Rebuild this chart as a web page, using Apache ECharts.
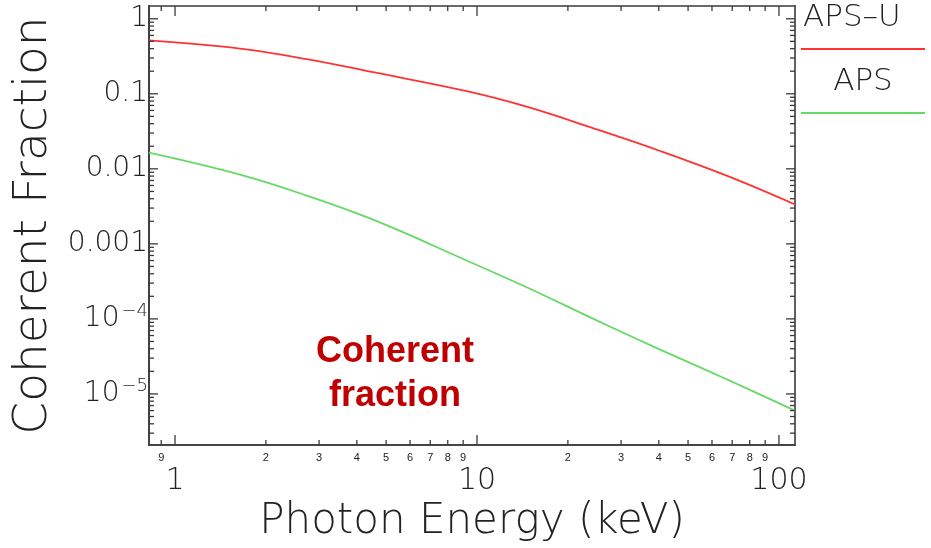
<!DOCTYPE html>
<html lang="en">
<head>
    <meta charset="UTF-8">
    <title>Coherent Fraction</title>
    <script src="https://cdn.jsdelivr.net/npm/echarts@6/dist/echarts.min.js"></script>
</head>
<body style="margin:0;background:#fff">
    <div id="main" style="width:931px;height:548px;"></div>
    <script>
        // photon energy (keV)
        let energy = [0.82, 1.64, 2.73, 4.53, 9.48, 14.6, 24.2, 40.4, 67.1, 113];
        // coherent fraction for each ring
        let apsU = [0.514, 0.400, 0.290, 0.194, 0.106, 0.0673, 0.0349, 0.0173, 0.0081, 0.00335];
        let aps = [0.0164, 0.00836, 0.0044, 0.0021, 0.000574, 0.000264, 0.000101, 0.000039, 0.0000157, 0.0000060];

        // tick positions
        let xMajor = [1, 10, 100];
        let xMinor = [0.9, 2, 3, 4, 5, 6, 7, 8, 9, 20, 30, 40, 50, 60, 70, 80, 90];
        let yMajor = [1e-5, 1e-4, 1e-3, 1e-2, 1e-1, 1];
        let yDecades = [1e-6, 1e-5, 1e-4, 1e-3, 1e-2, 1e-1];
        let yMinor = [];
        yDecades.forEach(function (d) {
            for (let m = 2; m <= 9; m++) yMinor.push(+(m * d).toPrecision(3));
        });

        let xMin = 0.82, xMax = 113;
        let yMin = 2.08e-6, yMax = 1.48;

        let font = 'DejaVu Sans';
        let axisColor = '#3a3a3a';

        function leadDigit(v) {
            let p = Math.pow(10, Math.floor(Math.log10(v) + 1e-9));
            return String(Math.round(v / p));
        }
        function yMajorLabel(v) {
            let e = Math.round(Math.log10(v));
            if (e >= -3) return ['1', '0.1', '0.01', '0.001'][-e];
            return '10{s|\u2212' + (-e) + '}';
        }

        function logAx(pos, min, max, label) {
            return {
                type: 'log', position: pos, min: min, max: max,
                axisLine: { show: true, onZero: false, lineStyle: { color: axisColor, width: 1.6 } },
                axisTick: { show: false },
                axisLabel: label || { show: false }, splitLine: { show: false }
            };
        }

        // tick marks drawn on all four sides through the log scales
        let xTickVals = xMinor.concat(xMajor);
        let xTickLen = xMinor.map(function () { return 5; }).concat(xMajor.map(function () { return 10; }));
        let yMinorIn = yMinor.filter(function (v) { return v >= yMin && v <= yMax; });
        let yTickVals = yMinorIn.concat(yMajor);
        let yTickLen = yMinorIn.map(function () { return 5; }).concat(yMajor.map(function () { return 9; }));

        function tickLine(x1, y1, x2, y2) {
            return { type: 'line', shape: { x1: x1, y1: y1, x2: x2, y2: y2 }, style: { stroke: axisColor, lineWidth: 1.3 } };
        }
        function renderXTick(params, api) {
            let v = xTickVals[params.dataIndex], len = xTickLen[params.dataIndex];
            let b = api.coord([v, yMin]), t = api.coord([v, yMax]);
            return {
                type: 'group',
                children: [tickLine(b[0], b[1], b[0], b[1] - len), tickLine(t[0], t[1], t[0], t[1] + len)]
            };
        }
        function renderYTick(params, api) {
            let v = yTickVals[params.dataIndex], len = yTickLen[params.dataIndex];
            let l = api.coord([xMin, v]), r = api.coord([xMax, v]);
            return {
                type: 'group',
                children: [tickLine(l[0], l[1], l[0] + len, l[1]), tickLine(r[0], r[1], r[0] - len, r[1])]
            };
        }

        let myChart = echarts.init(document.getElementById('main'));

        let xLabelMajor = logAx('bottom', xMin, xMax, {
            customValues: xMajor, margin: 21, fontSize: 30, color: '#222',
            fontFamily: font, fontWeight: 200, formatter: function (v) { return String(Math.round(v)); }
        });
        xLabelMajor.name = 'Photon Energy (keV)';
        xLabelMajor.nameLocation = 'middle';
        xLabelMajor.nameGap = 50;
        xLabelMajor.nameTextStyle = { fontSize: 42, color: '#222', fontFamily: font, fontWeight: 200 };

        let yLabelMajor = logAx('left', yMin, yMax, {
            customValues: yMajor, margin: 1, fontSize: 28, color: '#222',
            fontFamily: font, fontWeight: 200, formatter: yMajorLabel,
            rich: { s: { fontSize: 18, verticalAlign: 'top', padding: [0, 0, 15, 2], fontFamily: font, fontWeight: 200, color: '#222' } }
        });
        yLabelMajor.name = 'Coherent Fraction';
        yLabelMajor.nameLocation = 'middle';
        yLabelMajor.nameRotate = 90;
        yLabelMajor.nameGap = 84;
        yLabelMajor.nameTextStyle = { fontSize: 47, color: '#222', fontFamily: font, fontWeight: 200 };

        let option = {
            animation: false,
            backgroundColor: '#fff',
            grid: { left: 149, right: 136, top: 6, bottom: 96 },
            xAxis: [
                logAx('bottom', xMin, xMax, {
                    customValues: xMinor, margin: 7, fontSize: 11, color: '#222',
                    fontFamily: 'Liberation Sans', formatter: leadDigit
                }),
                xLabelMajor,
                logAx('top', xMin, xMax)
            ],
            yAxis: [
                logAx('left', yMin, yMax),
                yLabelMajor,
                logAx('right', yMin, yMax)
            ],
            graphic: [
                { type: 'text', x: 803, y: 18, style: { text: 'APS\u2013U', fontSize: 31, fontFamily: font, fontWeight: 200, fill: '#222', verticalAlign: 'middle' } },
                { type: 'line', shape: { x1: 801, y1: 49, x2: 925, y2: 49 }, style: { stroke: '#ff3333', lineWidth: 2 } },
                { type: 'text', x: 863, y: 82, style: { text: 'APS', fontSize: 31, fontFamily: font, fontWeight: 200, fill: '#222', align: 'center', verticalAlign: 'middle' } },
                { type: 'line', shape: { x1: 801, y1: 113, x2: 925, y2: 113 }, style: { stroke: '#66d966', lineWidth: 2 } },
                {
                    type: 'text', x: 395, y: 374,
                    style: {
                        text: 'Coherent\nfraction', fontSize: 36, fontWeight: 'bold', fontFamily: 'Liberation Sans',
                        fill: '#c00000', align: 'center', verticalAlign: 'middle', lineHeight: 44
                    }
                }
            ],
            series: [
                {
                    name: 'APS-U', type: 'line', xAxisIndex: 0, yAxisIndex: 0,
                    smooth: 0.4, showSymbol: false, symbol: 'none',
                    lineStyle: { color: '#ff3333', width: 1.8 },
                    data: energy.map(function (e, i) { return [e, apsU[i]]; })
                },
                {
                    name: 'APS', type: 'line', xAxisIndex: 0, yAxisIndex: 0,
                    smooth: 0.4, showSymbol: false, symbol: 'none',
                    lineStyle: { color: '#66d966', width: 1.8 },
                    data: energy.map(function (e, i) { return [e, aps[i]]; })
                },
                {
                    type: 'custom', xAxisIndex: 0, yAxisIndex: 0, silent: true, clip: false, z: 10,
                    encode: { x: 0, y: 1 },
                    renderItem: renderXTick,
                    data: xTickVals.map(function (v) { return [v, yMin]; })
                },
                {
                    type: 'custom', xAxisIndex: 0, yAxisIndex: 0, silent: true, clip: false, z: 10,
                    encode: { x: 0, y: 1 },
                    renderItem: renderYTick,
                    data: yTickVals.map(function (v) { return [xMin, v]; })
                }
            ]
        };

        myChart.setOption(option);
    </script>
</body>
</html>
